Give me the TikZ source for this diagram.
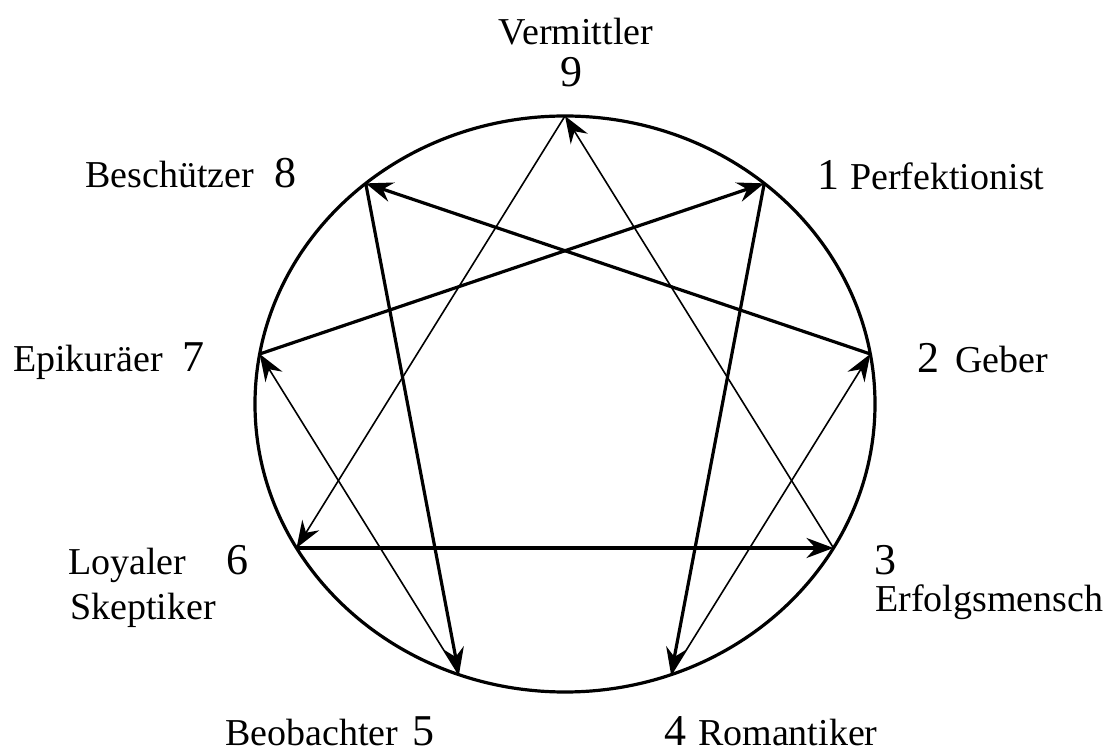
\documentclass[tikz,border=0pt]{standalone}
\usepackage{fontspec}
\setmainfont{Liberation Serif}
\usetikzlibrary{arrows.meta}

\begin{document}
\begin{tikzpicture}[x=1pt, y=1pt,
  word/.style={font=\fontsize{38}{40}\selectfont, inner sep=0pt},
  digit/.style={font=\fontsize{44}{46}\selectfont, inner sep=0pt},
  strong/.style={line width=3.2pt, -{Stealth[length=27pt, width=20pt, inset=9pt]}},
  weak/.style={line width=1.6pt, -{Stealth[length=27pt, width=20pt, inset=9pt]}}]
  \useasboundingbox (0,0) rectangle (1117,753);
  \coordinate (c) at (565,349);
  \draw[line width=3.2pt] (c) ellipse [x radius=310, y radius=288];
  % the nine points on the ring
  \path (c) ++(90:310 and 288) coordinate (p9);
  \path (c) ++(50:310 and 288) coordinate (p1);
  \path (c) ++(10:310 and 288) coordinate (p2);
  \path (c) ++(-30:310 and 288) coordinate (p3);
  \path (c) ++(-70:310 and 288) coordinate (p4);
  \path (c) ++(-110:310 and 288) coordinate (p5);
  \path (c) ++(-150:310 and 288) coordinate (p6);
  \path (c) ++(170:310 and 288) coordinate (p7);
  \path (c) ++(130:310 and 288) coordinate (p8);
  % triangle
  \draw[weak] (p3) -- (p9);
  \draw[weak] (p9) -- (p6);
  \draw[strong] (p6) -- (p3);
  % hexad
  \draw[strong] (p1) -- (p4);
  \draw[weak] (p4) -- (p2);
  \draw[strong] (p2) -- (p8);
  \draw[strong] (p8) -- (p5);
  \draw[weak] (p5) -- (p7);
  \draw[strong] (p7) -- (p1);
  % labels
  \node[word, anchor=base] (l9) at (576,708) {Vermittler};
  \node[digit, anchor=base] (d9) at (571,666) {9};
  \node[word, anchor=base west] (l8) at (85,565) {Beschützer};
  \node[digit, anchor=base west] (d8) at (274,565) {8};
  \node[digit, anchor=base west] (d1) at (817,563) {1};
  \node[word, anchor=base west] (l1) at (850,563) {Perfektionist};
  \node[word, anchor=base west] (l7) at (13,381) {Epikuräer};
  \node[digit, anchor=base west] (d7) at (182,381) {7};
  \node[digit, anchor=base west] (d2) at (917,380) {2};
  \node[word, anchor=base west] (l2) at (955,380) {Geber};
  \node[word, anchor=base west] (l6) at (68,178) {Loyaler};
  \node[digit, anchor=base west] (d6) at (226,178) {6};
  \node[word, anchor=base west] (l6b) at (70,133) {Skeptiker};
  \node[digit, anchor=base west] (d3) at (874,178) {3};
  \node[word, anchor=base west] (l3) at (875,141) {Erfolgsmensch};
  \node[word, anchor=base west] (l5) at (225,8) {Beobachter};
  \node[digit, anchor=base west] (d5) at (412,8) {5};
  \node[digit, anchor=base west] (d4) at (664,8) {4};
  \node[word, anchor=base west] (l4) at (698,8) {Romantiker};
\end{tikzpicture}
\end{document}
